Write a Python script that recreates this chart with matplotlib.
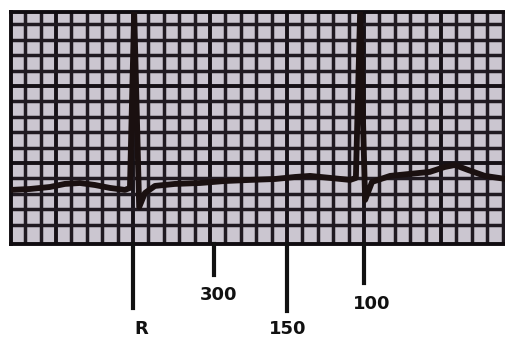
import numpy as np
import matplotlib
matplotlib.use("Agg")
import matplotlib.pyplot as plt

# ECG trace, time in seconds (R wave at 0), amplitude in mm of paper
trace_t = [-0.317, -0.268, -0.216, -0.177, -0.138, -0.099, -0.060, -0.021,
           -0.008, 0.003, 0.016, 0.031, 0.057, 0.109, 0.174, 0.239, 0.304,
           0.369, 0.421, 0.460, 0.512, 0.564, 0.579, 0.590, 0.603, 0.621,
           0.668, 0.719, 0.771, 0.810, 0.836, 0.870, 0.914, 0.969]
trace_mm = [3.25, 3.31, 3.44, 3.64, 3.70, 3.57, 3.38, 3.25,
            3.38, 14.8, 2.14, 3.05, 3.51, 3.64, 3.70, 3.83, 3.90,
            3.96, 4.09, 4.16, 4.03, 3.90, 4.03, 14.8, 2.60, 3.77,
            4.16, 4.29, 4.42, 4.74, 4.87, 4.55, 4.16, 3.96]

# rate counting markers below the strip
marker_t = [0.0, 0.21, 0.40, 0.60]
marker_end = [-4.4, -2.3, -4.6, -2.8]
marker_labels = ["R", "300", "150", "100"]
label_t = [0.021, 0.221, 0.403, 0.621]
label_mm = [-5.8, -3.55, -5.8, -4.15]

X_LIM = (-0.317, 0.969)
Y_LIM = (-0.26, 14.8)

fig = plt.figure(figsize=(5.06, 3.37), dpi=100)
fig.patch.set_facecolor("white")
ax = fig.add_axes([11 / 506, 93 / 337, 495 / 506, 232 / 337])
ax.set_facecolor("#cbc6d0")
ax.set_xlim(*X_LIM)
ax.set_ylim(*Y_LIM)

# ECG paper grid: small boxes 0.04 s / 1 mm, big boxes 0.2 s / 5 mm
ax.set_xticks(np.arange(-0.2, 1.0, 0.2))
ax.set_xticks(np.arange(-0.28, 1.0, 0.04), minor=True)
ax.set_yticks([5, 10])
ax.set_yticks(np.arange(1, 15, 1), minor=True)
ax.grid(which="minor", color="#201a21", linewidth=2.5)
ax.grid(which="major", color="#161116", linewidth=2.8)
ax.tick_params(which="both", length=0, labelbottom=False, labelleft=False)
for side in ["left", "top", "bottom"]:
    ax.spines[side].set_linewidth(2.8)
    ax.spines[side].set_color("#100c10")
ax.spines["right"].set_visible(False)
ax.set_axisbelow(True)

ax.plot(trace_t, trace_mm, color="#1a1010", linewidth=4.2,
        solid_joinstyle="round", solid_capstyle="round", zorder=3)

for t, end in zip(marker_t, marker_end):
    ax.plot([t, t], [Y_LIM[0], end], color="#111111", linewidth=3.0,
            clip_on=False, zorder=3)

for t, y, txt in zip(label_t, label_mm, marker_labels):
    ax.text(t, y, txt, ha="center", va="center", fontsize=13,
            fontweight="bold", color="#111111")

fig.savefig("out.png", dpi=100)
